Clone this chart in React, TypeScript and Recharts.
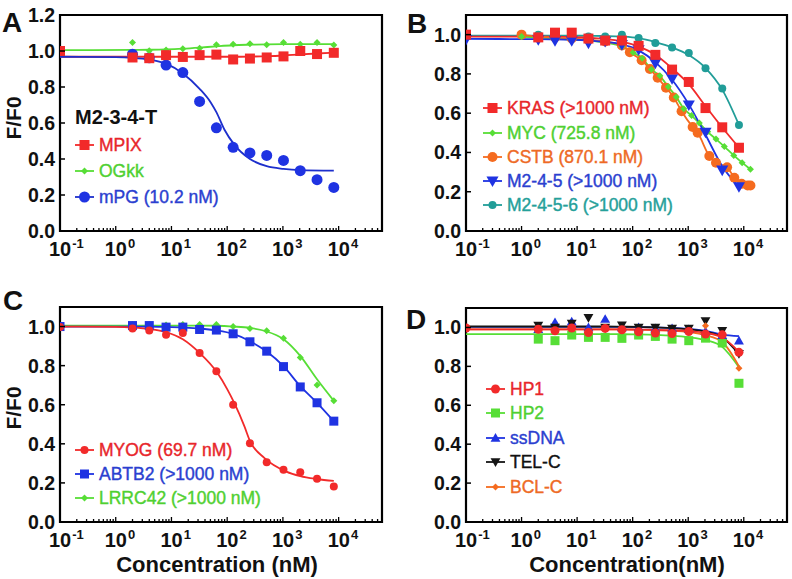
import React from "react"
import { ComposedChart, Line, Scatter, XAxis, YAxis, ReferenceArea } from "recharts"

const FONT = '"Liberation Sans", Arial, Helvetica, sans-serif'

// colours
const RED = "#f22a2a"
const GREEN = "#57de36"
const BLUE = "#1f33e2"
const ORANGE = "#f56b1f"
const TEAL = "#219d98"
const BLACK = "#151515"

// axis ticks
const decades = [0.1, 1, 10, 100, 1000, 10000]
const minorSteps = [2, 3, 4, 5, 6, 7, 8, 9]
const xMax = 60000
const yTicksA = [0, 0.2, 0.4, 0.6, 0.8, 1.0, 1.2]
const yTicksBCD = [0, 0.2, 0.4, 0.6, 0.8, 1.0]

const xTicks: number[] = []
decades.forEach((d) => {
  xTicks.push(d)
  minorSteps.forEach((m) => {
    const v = Number((m * d).toPrecision(3))
    if (v <= xMax) xTicks.push(v)
  })
})

// ---------- panel A (M2-3-4-T) ----------
const concA = [0.1, 2, 4, 8, 16, 32, 64, 128, 256, 512, 1024, 2048, 4096, 8192]
const concA2 = [2, 4, 8, 16, 32, 64, 128, 256, 512, 1024, 2048, 4096, 8192]
const mpixY = [1.0, 0.964, 0.96, 0.977, 0.967, 0.977, 0.98, 0.953, 0.958, 0.964, 0.97, 1.0, 0.983, 0.99]
const mpixFitY = [0.968, 0.968, 0.968, 0.968, 0.968, 0.968, 0.968, 0.968, 0.969, 0.971, 0.975, 0.981, 0.986, 0.99]
const ogkkY = [1.047, 1.002, 1.005, 1.013, 1.015, 1.035, 1.037, 1.04, 1.035, 1.047, 1.037, 1.047, 1.033]
const ogkkFitY = [1.005, 1.006, 1.007, 1.009, 1.013, 1.019, 1.026, 1.032, 1.035, 1.037, 1.038, 1.038, 1.038, 1.038]
const mpgY = [0.982, 0.962, 0.922, 0.88, 0.72, 0.573, 0.465, 0.434, 0.42, 0.392, 0.335, 0.285, 0.242]
const mpgFitX = [0.1, 1, 2, 4, 8, 16, 32, 51, 64, 89, 134, 256, 512, 1024, 2048, 8192]
const mpgFitY = [0.968, 0.966, 0.962, 0.952, 0.93, 0.875, 0.79, 0.713, 0.66, 0.564, 0.48, 0.4, 0.36, 0.345, 0.338, 0.335]

// ---------- panel B ----------
const concB = [0.1, 2, 4, 8, 16, 32, 64, 128, 256, 512, 1024, 2048, 4096, 8192]
const concB2 = [2, 4, 8, 16, 32, 64, 128, 256, 512, 1024, 2048, 4096, 8192]
const krasY = [1.0, 0.986, 1.01, 1.01, 0.98, 0.97, 0.97, 0.943, 0.897, 0.822, 0.759, 0.626, 0.528, 0.424]
const krasFitY = [0.99, 0.99, 0.99, 0.988, 0.985, 0.978, 0.965, 0.94, 0.897, 0.828, 0.748, 0.636, 0.527, 0.425]
const mycX = [1, 2, 4, 8, 16, 32, 64, 102, 148, 218, 309, 437, 610, 832, 1148, 1585, 2239, 3162, 4467, 6607, 9333, 13183]
const mycY = [0.99, 0.985, 0.98, 0.975, 0.97, 0.96, 0.94, 0.909, 0.88, 0.823, 0.79, 0.734, 0.683, 0.623, 0.588, 0.55, 0.505, 0.468, 0.43, 0.385, 0.348, 0.314]
const cstbX = [1, 2, 4, 8, 16, 32, 64, 89, 145, 204, 282, 398, 550, 759, 1202, 1479, 2399, 3162, 5012, 6761, 9120, 11749, 13183]
const cstbY = [1.0, 0.99, 0.985, 0.98, 0.975, 0.965, 0.945, 0.91, 0.87, 0.825, 0.78, 0.73, 0.68, 0.61, 0.53, 0.5, 0.382, 0.348, 0.325, 0.271, 0.24, 0.232, 0.232]
const m245Y = [0.975, 0.974, 0.969, 0.969, 0.957, 0.965, 0.949, 0.923, 0.854, 0.775, 0.642, 0.503, 0.31, 0.225]
const m245FitY = [0.978, 0.977, 0.976, 0.974, 0.97, 0.963, 0.95, 0.92, 0.86, 0.77, 0.645, 0.49, 0.33, 0.225]
const m2456Y = [1.0, 0.99, 0.99, 0.99, 0.99, 1.0, 0.983, 0.957, 0.935, 0.906, 0.829, 0.726, 0.54]
const m2456FitY = [0.995, 0.995, 0.995, 0.995, 0.994, 0.993, 0.99, 0.982, 0.962, 0.935, 0.896, 0.83, 0.72, 0.54]

// ---------- panel C ----------
const concC = [0.1, 2, 4, 8, 16, 32, 64, 128, 256, 512, 1024, 2048, 4096, 8192]
const concC2 = [2, 4, 8, 16, 32, 64, 128, 256, 512, 1024, 2048, 4096, 8192]
const myogY = [0.998, 0.99, 0.98, 0.958, 0.967, 0.865, 0.771, 0.6, 0.403, 0.306, 0.267, 0.255, 0.221, 0.181]
const myogFitX = [0.1, 1, 2, 4, 8, 16, 32, 67, 100, 134, 204, 256, 468, 1150, 2048, 4096, 8192]
const myogFitY = [1.0, 0.998, 0.995, 0.988, 0.972, 0.935, 0.865, 0.762, 0.68, 0.609, 0.489, 0.415, 0.327, 0.258, 0.235, 0.22, 0.21]
const abtb2Y = [1.0, 1.005, 1.005, 0.997, 0.997, 0.985, 0.982, 0.963, 0.922, 0.874, 0.795, 0.691, 0.61, 0.516]
const abtb2FitY = [1.0, 1.0, 1.0, 0.998, 0.995, 0.99, 0.98, 0.962, 0.925, 0.872, 0.797, 0.695, 0.61, 0.516]
const lrrc42Y = [1.01, 1.01, 1.008, 1.01, 1.01, 1.01, 1.0, 0.99, 0.978, 0.94, 0.841, 0.701, 0.62]
const lrrc42FitY = [1.005, 1.005, 1.005, 1.005, 1.005, 1.005, 1.004, 1.0, 0.993, 0.975, 0.935, 0.85, 0.73, 0.62]

// ---------- panel D ----------
const concD = [0.1, 2, 4, 8, 16, 32, 64, 128, 256, 512, 1024, 2048, 4096, 8192]
const concD2 = [2, 4, 8, 16, 32, 64, 128, 256, 512, 1024, 2048, 4096, 8192]
const hp1Y = [0.997, 0.991, 0.983, 0.997, 0.974, 0.995, 0.988, 0.978, 0.971, 0.969, 0.979, 0.966, 0.962, 0.872]
const hp1FitY = [0.99, 0.99, 0.99, 0.99, 0.99, 0.99, 0.99, 0.989, 0.988, 0.986, 0.982, 0.972, 0.948, 0.875]
const hp2Y = [0.94, 0.932, 0.961, 0.949, 0.949, 0.944, 0.961, 0.954, 0.94, 0.932, 0.945, 0.92, 0.713]
const hp2FitY = [0.966, 0.966, 0.966, 0.966, 0.966, 0.966, 0.965, 0.964, 0.962, 0.958, 0.95, 0.935, 0.9, 0.795]
const ssdnaY = [0.99, 1.026, 1.03, 1.0, 1.043, 1.0, 1.0, 0.995, 0.995, 0.99, 0.98, 0.96, 0.932]
const ssdnaFitY = [1.003, 1.003, 1.003, 1.003, 1.003, 1.003, 1.003, 1.002, 1.0, 0.998, 0.993, 0.983, 0.963, 0.955]
const telcY = [1.01, 1.0, 1.02, 1.05, 1.0, 1.012, 1.0, 1.0, 0.995, 0.995, 1.034, 0.983, 0.865]
const telcFitY = [1.005, 1.005, 1.005, 1.005, 1.005, 1.005, 1.004, 1.003, 1.0, 0.997, 0.99, 0.978, 0.95, 0.862]
const bclcY = [0.99, 0.985, 1.0, 0.98, 1.0, 0.99, 0.98, 0.975, 0.97, 0.98, 1.009, 0.96, 0.79]
const bclcFitY = [0.99, 0.99, 0.99, 0.99, 0.99, 0.99, 0.99, 0.988, 0.986, 0.983, 0.976, 0.96, 0.925, 0.8]

const pts = (xs: number[], ys: number[]) => xs.map((x, i) => ({ x, y: ys[i] }))

type Kind = "square" | "circle" | "diamond" | "up" | "down"

function Marker({ kind, cx, cy, size, color }: { kind: Kind; cx: number; cy: number; size: number; color: string }) {
  const h = size / 2
  if (kind === "square") return <rect x={cx - h} y={cy - h} width={size} height={size} fill={color} />
  if (kind === "circle") return <circle cx={cx} cy={cy} r={h} fill={color} />
  if (kind === "diamond")
    return <polygon points={`${cx},${cy - h} ${cx + h},${cy} ${cx},${cy + h} ${cx - h},${cy}`} fill={color} />
  const k = h * 1.1
  if (kind === "up")
    return <polygon points={`${cx},${cy - k} ${cx + k},${cy + k * 0.75} ${cx - k},${cy + k * 0.75}`} fill={color} />
  return <polygon points={`${cx},${cy + k} ${cx + k},${cy - k * 0.75} ${cx - k},${cy - k * 0.75}`} fill={color} />
}

const shapeOf = (kind: Kind, size: number, color: string) => (p: any) =>
  p.cx == null ? <g /> : <Marker kind={kind} cx={p.cx} cy={p.cy} size={size} color={color} />

interface Series {
  name: string
  color: string
  text: string
  kind: Kind
  size: number
  points: { x: number; y: number }[]
  fit: { x: number; y: number }[]
  lineColor?: string
}

function XTick(props: any) {
  const { x, y, payload } = props
  const v = payload.value as number
  const lg = Math.log10(v)
  const exp = Math.round(lg)
  const major = Math.abs(lg - exp) < 1e-6
  return (
    <g>
      <line x1={x} x2={x} y1={y} y2={y - (major ? 5 : 3)} stroke="#000" strokeWidth={1.3} />
      {major && (
        <text x={x - 11} y={y + 25} fontSize={20} fontWeight="bold" fill="#111" fontFamily={FONT}>
          10
          <tspan dx={1} dy={-8} fontSize={13}>
            {exp}
          </tspan>
        </text>
      )}
    </g>
  )
}

function YTick(props: any) {
  const { x, y, payload } = props
  return (
    <g>
      <line x1={x} x2={x + 5} y1={y} y2={y} stroke="#000" strokeWidth={1.5} />
      <text x={x - 5} y={y + 7} textAnchor="end" fontSize={19.5} fontWeight="bold" fill="#111" fontFamily={FONT}>
        {(payload.value as number).toFixed(1)}
      </text>
    </g>
  )
}

interface PanelProps {
  left: number
  top: number
  width: number
  height: number
  margin: { top: number; right: number; bottom: number; left: number }
  yMax: number
  yTicks: number[]
  series: Series[]
  lineOrder: number[]
  dotOrder: number[]
}

function Panel({ left, top, width, height, margin, yMax, yTicks, series, lineOrder, dotOrder }: PanelProps) {
  return (
    <div style={{ position: "absolute", left, top }}>
      <ComposedChart width={width} height={height} margin={margin}>
        <XAxis
          dataKey="x"
          type="number"
          scale="log"
          domain={[0.1, xMax]}
          allowDataOverflow
          ticks={xTicks}
          interval={0}
          tick={(p: any) => <XTick {...p} />}
          tickSize={0}
          tickMargin={0}
          axisLine={false}
          tickLine={false}
          height={40}
        />
        <YAxis
          dataKey="y"
          type="number"
          domain={[0, yMax]}
          allowDataOverflow
          ticks={yTicks}
          interval={0}
          tick={(p: any) => <YTick {...p} />}
          tickSize={0}
          tickMargin={0}
          axisLine={false}
          tickLine={false}
          width={50}
        />
        {lineOrder.map((i) => (
          <Line
            key={"l" + i}
            data={series[i].fit}
            dataKey="y"
            type="monotone"
            stroke={series[i].lineColor || series[i].color}
            strokeWidth={1.8}
            dot={false}
            activeDot={false}
            isAnimationActive={false}
          />
        ))}
        {dotOrder.map((i) => (
          <Scatter
            key={"s" + i}
            data={series[i].points}
            dataKey="y"
            shape={shapeOf(series[i].kind, series[i].size, series[i].color)}
            isAnimationActive={false}
          />
        ))}
        <ReferenceArea
          x1={0.1}
          x2={xMax}
          y1={0}
          y2={yMax}
          fill="none"
          fillOpacity={0}
          stroke="#000"
          strokeWidth={2.2}
          ifOverflow="visible"
        />
      </ComposedChart>
    </div>
  )
}

function LegendBox({ x, ys, items, textX }: { x: number; ys: number[]; items: Series[]; textX: number }) {
  const lineLen = 19
  return (
    <>
      {items.map((s, i) => (
        <div
          key={s.name}
          style={{
            position: "absolute",
            left: x,
            top: ys[i] - 11,
            height: 22,
            display: "flex",
            alignItems: "center",
            whiteSpace: "nowrap",
          }}
        >
          <svg width={lineLen} height={22} style={{ display: "block" }}>
            <line x1={0} x2={lineLen} y1={11} y2={11} stroke={s.lineColor || s.color} strokeWidth={1.8} />
            <Marker kind={s.kind} cx={lineLen / 2} cy={11} size={s.size} color={s.color} />
          </svg>
          <span
            style={{
              marginLeft: textX - x - lineLen,
              color: s.text,
              fontFamily: FONT,
              fontSize: 17.5,
              lineHeight: "22px",
              WebkitTextStroke: `0.4px ${s.text}`,
            }}
          >
            {s.name}
          </span>
        </div>
      ))}
    </>
  )
}

const seriesA: Series[] = [
  { name: "MPIX", color: RED, text: "#e8262b", kind: "square", size: 10, points: pts(concA, mpixY), fit: pts(concA, mpixFitY) },
  { name: "OGkk", color: GREEN, text: "#4fd031", kind: "diamond", size: 7, points: pts(concA2, ogkkY), fit: pts(concA, ogkkFitY) },
  { name: "mPG (10.2 nM)", color: BLUE, text: "#2b3fd0", kind: "circle", size: 11, points: pts(concA2, mpgY), fit: pts(mpgFitX, mpgFitY), lineColor: "#1d2fcc" },
]

const seriesB: Series[] = [
  { name: "KRAS (>1000 nM)", color: RED, text: "#e8262b", kind: "square", size: 10, points: pts(concB, krasY), fit: pts(concB, krasFitY) },
  { name: "MYC (725.8 nM)", color: GREEN, text: "#4fd031", kind: "diamond", size: 7, points: pts(mycX, mycY), fit: pts(mycX, mycY) },
  { name: "CSTB (870.1 nM)", color: ORANGE, text: "#ee6a25", kind: "circle", size: 10, points: pts(cstbX, cstbY), fit: pts(cstbX, cstbY) },
  { name: "M2-4-5 (>1000 nM)", color: BLUE, text: "#2b3fd0", kind: "down", size: 11, points: pts(concB, m245Y), fit: pts(concB, m245FitY) },
  { name: "M2-4-5-6 (>1000 nM)", color: TEAL, text: "#25a09a", kind: "circle", size: 8, points: pts(concB2, m2456Y), fit: pts(concB, m2456FitY) },
]

const seriesC: Series[] = [
  { name: "MYOG (69.7 nM)", color: RED, text: "#e8262b", kind: "circle", size: 8, points: pts(concC, myogY), fit: pts(myogFitX, myogFitY) },
  { name: "ABTB2 (>1000 nM)", color: BLUE, text: "#2b3fd0", kind: "square", size: 9, points: pts(concC, abtb2Y), fit: pts(concC, abtb2FitY) },
  { name: "LRRC42 (>1000 nM)", color: GREEN, text: "#4fd031", kind: "diamond", size: 7, points: pts(concC2, lrrc42Y), fit: pts(concC, lrrc42FitY) },
]

const seriesD: Series[] = [
  { name: "HP1", color: RED, text: "#e8262b", kind: "circle", size: 9, points: pts(concD, hp1Y), fit: pts(concD, hp1FitY) },
  { name: "HP2", color: GREEN, text: "#4fd031", kind: "square", size: 9, points: pts(concD2, hp2Y), fit: pts(concD, hp2FitY) },
  { name: "ssDNA", color: BLUE, text: "#2b3fd0", kind: "up", size: 9, points: pts(concD2, ssdnaY), fit: pts(concD, ssdnaFitY) },
  { name: "TEL-C", color: BLACK, text: "#111", kind: "down", size: 9, points: pts(concD2, telcY), fit: pts(concD, telcFitY) },
  { name: "BCL-C", color: ORANGE, text: "#ee6a25", kind: "diamond", size: 7, points: pts(concD2, bclcY), fit: pts(concD, bclcFitY) },
]

const letterStyle: React.CSSProperties = {
  position: "absolute",
  fontFamily: FONT,
  fontWeight: "bold",
  fontSize: 28,
  lineHeight: "30px",
  color: "#111",
}

const yTitleStyle: React.CSSProperties = {
  position: "absolute",
  width: 80,
  height: 26,
  lineHeight: "26px",
  textAlign: "center",
  fontFamily: FONT,
  fontWeight: "bold",
  fontSize: 21,
  color: "#111",
  transform: "rotate(-90deg)",
}

const xTitleStyle: React.CSSProperties = {
  position: "absolute",
  height: 28,
  lineHeight: "28px",
  textAlign: "center",
  fontFamily: FONT,
  fontWeight: "bold",
  fontSize: 22,
  color: "#111",
  whiteSpace: "nowrap",
}

export default function App() {
  return (
    <div style={{ position: "absolute", left: 0, top: 0, width: 792, height: 579, background: "#fff", overflow: "hidden" }}>
      <Panel
        left={0}
        top={0}
        width={395}
        height={290}
        margin={{ top: 15, right: 13, bottom: 19, left: 10 }}
        yMax={1.2}
        yTicks={yTicksA}
        series={seriesA}
        lineOrder={[0, 1, 2]}
        dotOrder={[2, 1, 0]}
      />
      <Panel
        left={400}
        top={0}
        width={392}
        height={290}
        margin={{ top: 15, right: 5, bottom: 19, left: 16 }}
        yMax={1.1}
        yTicks={yTicksBCD}
        series={seriesB}
        lineOrder={[4, 0, 1, 2, 3]}
        dotOrder={[2, 1, 4, 3, 0]}
      />
      <Panel
        left={0}
        top={290}
        width={395}
        height={289}
        margin={{ top: 17, right: 13, bottom: 17, left: 10 }}
        yMax={1.1}
        yTicks={yTicksBCD}
        series={seriesC}
        lineOrder={[2, 1, 0]}
        dotOrder={[2, 1, 0]}
      />
      <Panel
        left={400}
        top={290}
        width={392}
        height={289}
        margin={{ top: 18, right: 5, bottom: 17, left: 16 }}
        yMax={1.1}
        yTicks={yTicksBCD}
        series={seriesD}
        lineOrder={[1, 2, 3, 4, 0]}
        dotOrder={[1, 2, 3, 4, 0]}
      />

      {/* legends */}
      <div
        style={{
          position: "absolute",
          left: 75,
          top: 105,
          fontFamily: FONT,
          fontWeight: "bold",
          fontSize: 20,
          lineHeight: "24px",
          color: "#111",
        }}
      >
        M2-3-4-T
      </div>
      <LegendBox x={75} textX={99} ys={[145, 171, 197]} items={seriesA} />
      <LegendBox x={483} textX={507} ys={[108, 132.5, 157, 181, 205]} items={seriesB} />
      <LegendBox x={75} textX={99} ys={[450, 474, 498]} items={seriesC} />
      <LegendBox x={486} textX={510} ys={[389, 413, 438, 462, 487]} items={seriesD} />

      {/* panel letters */}
      <div style={{ ...letterStyle, left: 2, top: 8 }}>A</div>
      <div style={{ ...letterStyle, left: 407, top: 9 }}>B</div>
      <div style={{ ...letterStyle, left: 3, top: 286 }}>C</div>
      <div style={{ ...letterStyle, left: 406, top: 305 }}>D</div>

      {/* axis titles */}
      <div style={{ ...yTitleStyle, left: 14 - 40, top: 118 - 13 }}>F/F0</div>
      <div style={{ ...yTitleStyle, left: 14 - 40, top: 408 - 13 }}>F/F0</div>
      <div style={{ ...xTitleStyle, left: 97, width: 240, top: 551 }}>Concentration (nM)</div>
      <div style={{ ...xTitleStyle, left: 507, width: 240, top: 551 }}>Concentration(nM)</div>
    </div>
  )
}
